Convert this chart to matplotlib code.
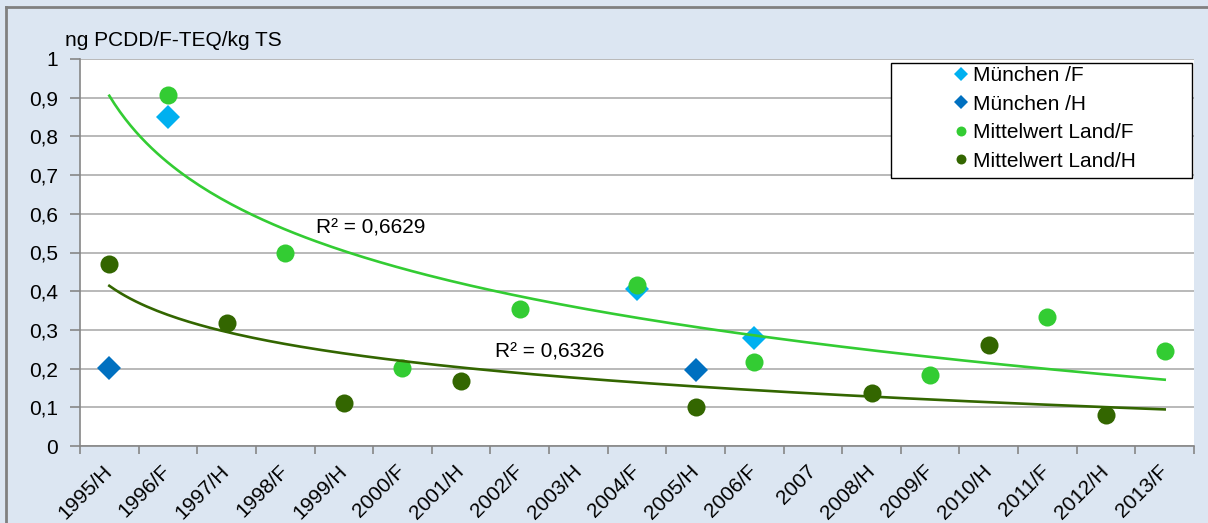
import numpy as np
import matplotlib
matplotlib.use("Agg")
from matplotlib import pyplot as plt
from matplotlib.patches import Rectangle
from matplotlib.lines import Line2D

plt.rcParams['font.family'] = ['Liberation Sans', 'DejaVu Sans']

nan = np.nan
cats = ['1995/H', '1996/F', '1997/H', '1998/F', '1999/H', '2000/F', '2001/H',
        '2002/F', '2003/H', '2004/F', '2005/H', '2006/F', '2007', '2008/H',
        '2009/F', '2010/H', '2011/F', '2012/H', '2013/F']

muc_f = [nan, 0.85, nan, nan, nan, nan, nan, nan, nan, 0.406, nan, 0.279,
         nan, nan, nan, nan, nan, nan, nan]
muc_h = [0.201, nan, nan, nan, nan, nan, nan, nan, nan, nan, 0.196, nan,
         nan, nan, nan, nan, nan, nan, nan]
land_f = [nan, 0.907, nan, 0.499, nan, 0.201, nan, 0.354, nan, 0.416, nan, 0.217,
          nan, nan, 0.183, nan, 0.333, nan, 0.245]
land_h = [0.470, nan, 0.318, nan, 0.111, nan, 0.168, nan, nan, nan, 0.101, nan,
          nan, 0.137, nan, 0.261, nan, 0.080, nan]

ylabel = 'ng PCDD/F-TEQ/kg TS'
r2_label_f = 'R² = 0,6629'
r2_label_h = 'R² = 0,6326'

c_muc_f = '#00B0F0'
c_muc_h = '#0070C0'
c_land_f = '#33CC33'
c_land_h = '#336600'
bg = '#DCE6F2'
grid = '#ADADAD'
fs = 15

W, H = 1208, 523
fig = plt.figure(figsize=(W / 100, H / 100), dpi=100, facecolor=bg)

# outer frame (only top and left edge visible)
fig.add_artist(Line2D([6 / W, 1], [1 - 6.5 / H, 1 - 6.5 / H], color='#808080', lw=2,
                      transform=fig.transFigure))
fig.add_artist(Line2D([6 / W, 6 / W], [0, 1 - 6.5 / H], color='#808080', lw=2,
                      transform=fig.transFigure))

ax = fig.add_axes([80 / W, 1 - 446 / H, (1194 - 80) / W, (446 - 59) / H])
ax.set_facecolor('white')

x = np.arange(1, len(cats) + 1)

ax.plot(x, muc_f, 'D', color=c_muc_f, ms=12.5, mew=0, label='München /F', zorder=3)
ax.plot(x, muc_h, 'D', color=c_muc_h, ms=12.5, mew=0, label='München /H', zorder=3)
ax.plot(x, land_f, 'o', color=c_land_f, ms=13, mew=0, label='Mittelwert Land/F', zorder=3)
ax.plot(x, land_h, 'o', color=c_land_h, ms=13, mew=0, label='Mittelwert Land/H', zorder=3)


# logarithmische trendlinien wie in excel
def logfit(vals):
    v = np.array(vals, dtype=float)
    m = ~np.isnan(v)
    a, b = np.polyfit(np.log(x[m]), v[m], 1)
    return a, b


xs = np.linspace(1, len(cats), 200)
a1, b1 = logfit(land_f)
a2, b2 = logfit(land_h)
ax.plot(xs, a1 * np.log(xs) + b1, color=c_land_f, lw=1.9, zorder=4)
ax.plot(xs, a2 * np.log(xs) + b2, color=c_land_h, lw=1.9, zorder=4)

ax.text(4.53, 0.563, r2_label_f, fontsize=fs, va='center', ha='left', zorder=5)
ax.text(7.58, 0.243, r2_label_h, fontsize=fs, va='center', ha='left', zorder=5)

ax.set_xlim(0.5, len(cats) + 0.5)
ax.set_ylim(0, 1)
ax.set_yticks(np.arange(0, 1.01, 0.1))
ax.set_yticklabels(['0'] + [('%.1f' % v).replace('.', ',') for v in np.arange(0.1, 0.95, 0.1)] + ['1'],
                   fontsize=fs)
ax.yaxis.grid(True, color=grid, lw=1.2)
ax.set_axisbelow(True)

ax.set_xticks(x)
ax.set_xticklabels(cats, rotation=45, ha='right', va='center', rotation_mode='anchor', fontsize=fs)
ax.set_xticks(np.arange(0.5, len(cats) + 1), minor=True)
ax.tick_params(axis='x', which='major', length=0, pad=16)
ax.tick_params(axis='x', which='minor', length=6, color='#868686', width=1.2)
ax.tick_params(axis='y', length=7, color='#868686', width=1.2, pad=9)

for s in ['top', 'right']:
    ax.spines[s].set_visible(False)
for s in ['left', 'bottom']:
    ax.spines[s].set_color('#868686')
    ax.spines[s].set_linewidth(1.2)

fig.text(65 / W, 1 - 40 / H, ylabel, fontsize=fs, ha='left', va='center')

# legend box (white, black frame)
box = Rectangle((891 / W, 1 - 178 / H), (1192 - 891) / W, (178 - 63) / H,
                transform=fig.transFigure, facecolor='white', edgecolor='black',
                lw=1, zorder=5, clip_on=False)
ax.add_artist(box)
leg = ax.legend(loc='upper left', bbox_to_anchor=((951 - 80) / (1194 - 80), (446 - 66) / 387),
                frameon=False, fontsize=fs, handlelength=1.0, handletextpad=0.05,
                labelspacing=0.46, borderpad=0, borderaxespad=0, markerscale=0.55)
leg.set_zorder(6)

fig.savefig('out.png', dpi=100, facecolor=bg)
